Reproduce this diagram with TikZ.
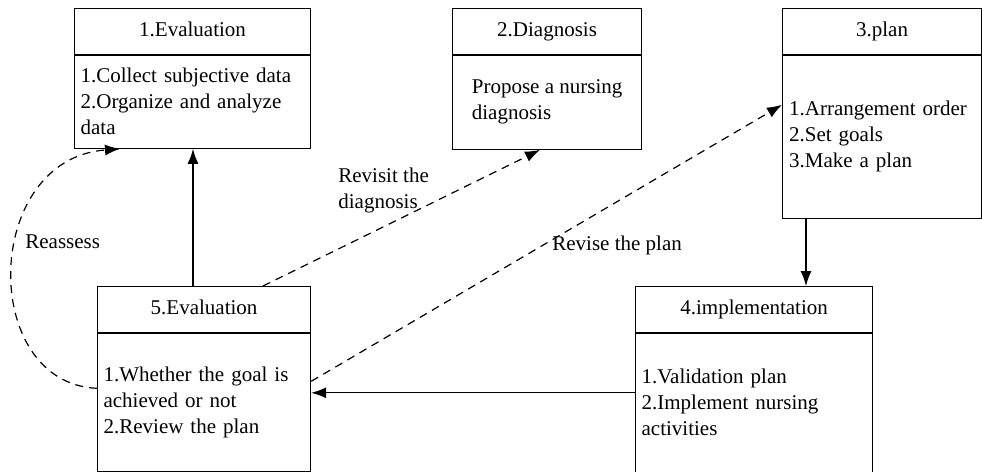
\documentclass[tikz,border=0pt]{standalone}
\usepackage{fontspec}
\setmainfont{Liberation Serif}
\usetikzlibrary{positioning,arrows.meta,calc}
\tikzset{
  head/.style={draw, line width=0.6pt, minimum height=22.75pt, anchor=north west, inner sep=0pt,
    text height=7.5pt, text depth=2pt},
  body/.style={draw, line width=0.6pt, anchor=north west, align=left, inner xsep=3pt, inner ysep=0pt},
  flow/.style={line width=0.6pt, -{Latex[length=7.5pt,width=5.5pt]}},
  back/.style={flow, dash pattern=on 4pt off 3pt},
  note/.style={anchor=west, align=left, inner sep=0pt}
}
\begin{document}
\begin{tikzpicture}[x=0.5pt,y=-0.5pt,font=\fontsize{10.5}{13}\selectfont]
\useasboundingbox (0,0) rectangle (982,472);
% top row
\node[head, minimum width=118pt] (h1) at (74,8) {1.Evaluation};
\node[body, text width=112pt, minimum height=46.5pt] (b1) at (h1.south west)
  {1.Collect subjective data\\2.Organize and analyze\\data};
\node[head, minimum width=94.5pt] (h2) at (452,8) {2.Diagnosis};
\node[body, minimum width=94.5pt, minimum height=47pt] (b2) at (h2.south west)
  {Propose a nursing\\diagnosis};
\node[head, minimum width=99.5pt] (h3) at (782,8) {3.plan};
\node[body, text width=93pt, inner xsep=3.25pt, minimum height=81.5pt] (b3) at (h3.south west)
  {1.Arrangement order\\2.Set goals\\3.Make a plan};
% bottom row
\node[head, minimum width=106.5pt] (h5) at (97,286) {5.Evaluation};
\node[body, text width=100.5pt, minimum height=69pt] (b5) at (h5.south west)
  {1.Whether the goal is\\achieved or not\\2.Review the plan};
\node[head, minimum width=118.5pt] (h4) at (635,286) {4.implementation};
\node[body, text width=112.5pt, minimum height=69.5pt] (b4) at (h4.south west)
  {1.Validation plan\\2.Implement nursing\\activities};
% connectors
\draw[flow] ([xshift=48pt]h5.north west) -- ([xshift=48pt]h5.north west |- b1.south);
\draw[flow] ([xshift=85.5pt]h4.north west |- b3.south) -- ([xshift=85.5pt]h4.north west);
\draw[flow] ([yshift=5pt]b4.west) -- ([yshift=5pt]b4.west -| b5.east);
\draw[back] ([xshift=83pt]h5.north west) -- ([xshift=44pt]b2.south west);
\draw[back] ([yshift=10.5pt]b5.east) -- ([yshift=16pt]b3.west);
\draw[back] ([yshift=7pt]b5.west) .. controls +(-118,-5) and +(-138,10) .. ([xshift=23pt]b1.south west);
% labels
\node[note] (l1) at (338,190) {Revisit the\\diagnosis};
\node[note] (l2) at (552,245) {Revise the plan};
\node[note] (l3) at (25,242) {Reassess};
\end{tikzpicture}
\end{document}
